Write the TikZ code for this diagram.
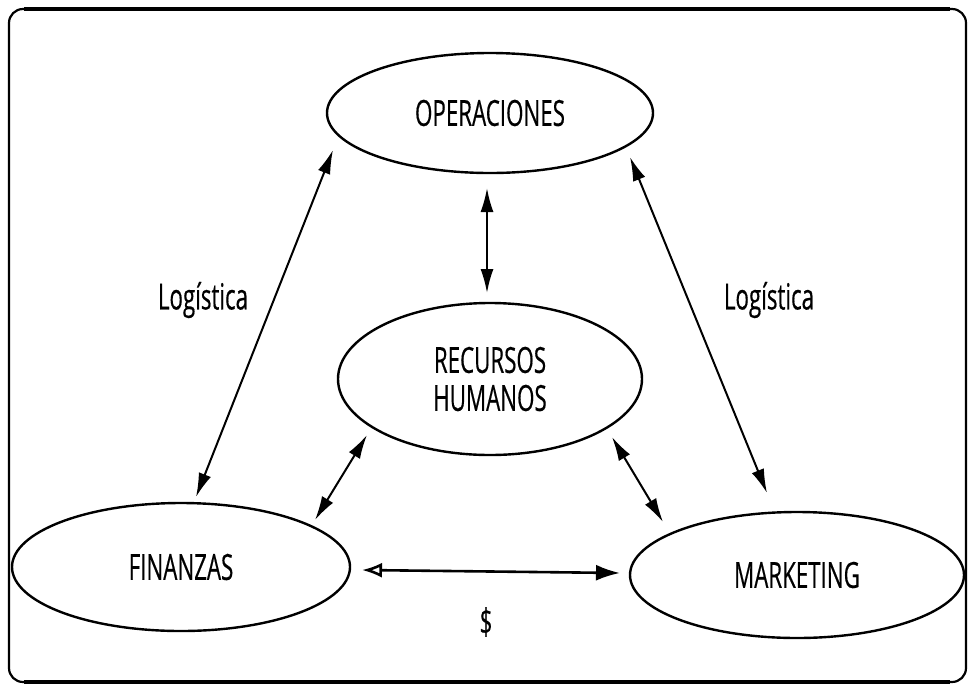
\documentclass[tikz,border=0pt]{standalone}
\usepackage{fontspec}
\setmainfont{Open Sans}[FakeStretch=0.62, FakeBold=0.4]
\usetikzlibrary{shapes.geometric,arrows.meta}
\tikzset{
  area/.style={ellipse, draw, line width=2.4pt, inner sep=0pt, font=\fontsize{36}{40}\selectfont},
  lbl/.style={font=\fontsize{36}{40}\selectfont, inner sep=0pt},
  link/.style={line width=2pt, {Latex[length=24pt,width=13pt]}-{Latex[length=24pt,width=13pt]}},
  money/.style={line width=2.6pt, {Latex[open,length=20pt,width=15pt]}-{Latex[length=24pt,width=16pt]}}
}
\begin{document}
\begin{tikzpicture}[x=1pt,y=-1pt]
  \useasboundingbox (0,0) rectangle (972,689);
  % outer frame
  \draw[line width=2.2pt, rounded corners=14pt] (9,9) rectangle (966,682);
  \draw[line width=3.4pt] (24,9) -- (950,9);
  \draw[line width=3.4pt] (24,682) -- (950,682);

  % functional areas
  \node[area, minimum width=326pt, minimum height=120pt] (op)  at (490,113) {OPERACIONES};
  \node[area, minimum width=304pt, minimum height=152pt, align=center] (rh) at (490,379) {RECURSOS\\[-2pt]HUMANOS};
  \node[area, minimum width=338pt, minimum height=128pt] (fin) at (181,567) {FINANZAS};
  \node[area, minimum width=334pt, minimum height=126pt] (mkt) at (797,575) {MARKETING};

  % relations
  \draw[link] ([shift={(-3,75)}]op.center) -- ([shift={(-3,-86)}]rh.center);
  \draw[link] ([shift={(-157,37)}]op.center) -- ([shift={(15,-70)}]fin.center);
  \draw[link] ([shift={(140,44)}]op.center) -- ([shift={(-30,-82)}]mkt.center);
  \draw[link] ([shift={(-123,56)}]rh.center) -- ([shift={(134,-47)}]fin.center);
  \draw[link] ([shift={(122,58)}]rh.center) -- ([shift={(-134,-53)}]mkt.center);
  \draw[money] ([shift={(181,3)}]fin.center) -- ([shift={(-177,-2)}]mkt.center);

  % labels
  \node[lbl] (l1) at (203,300) {Logística};
  \node[lbl] (l2) at (769,300) {Logística};
  \node[lbl] (usd) at (486,622) {\$};
\end{tikzpicture}
\end{document}
